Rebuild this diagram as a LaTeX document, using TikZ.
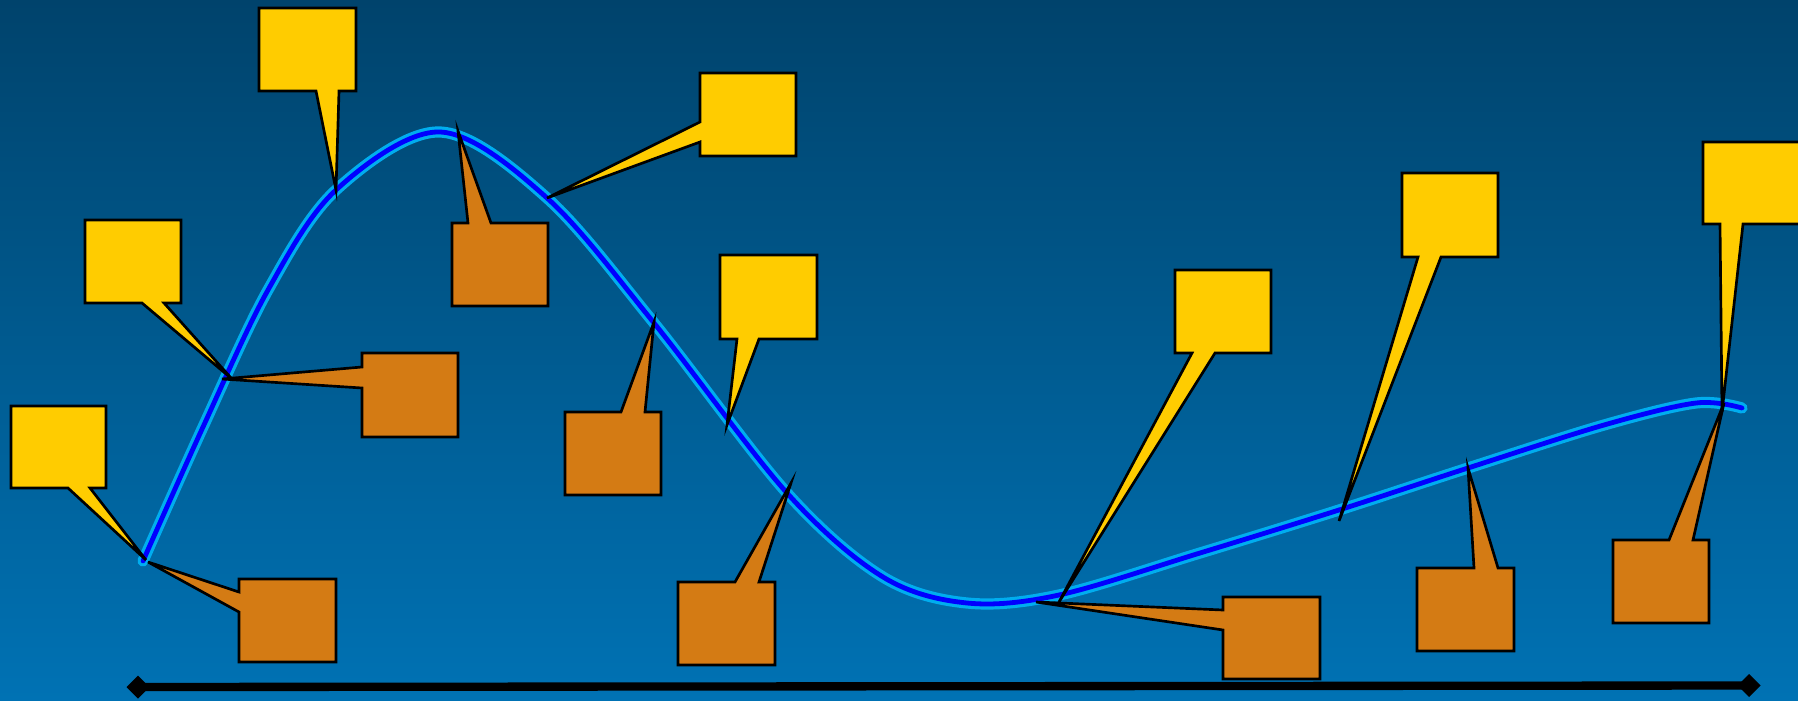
\documentclass[tikz,border=0pt]{standalone}
\usepackage{tikz}
\usetikzlibrary{arrows.meta}
\usepackage{xcolor}

\definecolor{bgtop}{RGB}{0,67,108}
\definecolor{bgbottom}{RGB}{0,114,180}
\definecolor{calloutyellow}{RGB}{255,204,0}
\definecolor{calloutorange}{RGB}{212,123,20}

\begin{document}
\begin{tikzpicture}[x=0.75pt,y=0.75pt,yscale=-1,xscale=1,
  yellowcallout/.style={draw=black,line width=2,fill=calloutyellow},
  orangecallout/.style={draw=black,line width=2,fill=calloutorange}]
\useasboundingbox (0,0) rectangle (1798,700);

%Shape: Background
\shade [top color=bgtop,bottom color=bgbottom] (0,0) rectangle (1798,700);

%Curve Lines
\draw [draw=cyan,double=blue,double distance=3.6,line width=2.4,line cap=round] plot [smooth,tension=0.55] coordinates {(143,561) (203,427) (268,290) (336,190) (440,132) (547,198) (654,323) (787,493) (883,577) (967,603) (1059,595) (1200,553) (1339,510) (1468,468) (1604,425) (1696,403) (1742,408)};

%Straight Lines
\draw [line width=6.25] (138,687) -- (1749,685.5) ;
\fill (138,675.5) -- (149.5,687) -- (138,698.5) -- (126.5,687) -- cycle ;
\fill (1749,674) -- (1760.5,685.5) -- (1749,697) -- (1737.5,685.5) -- cycle ;

%Shape: Callout (yellow)
\draw [yellowcallout] (259,8) -- (356,8) -- (356,91) -- (339,91) -- (336,190) -- (316,91) -- (259,91) -- cycle ;
\draw [yellowcallout] (85,220) -- (181,220) -- (181,303) -- (164,303) -- (232,379) -- (142,303) -- (85,303) -- cycle ;
\draw [yellowcallout] (11,406) -- (106,406) -- (106,488) -- (90,488) -- (146,560) -- (68,488) -- (11,488) -- cycle ;
\draw [yellowcallout] (700,73) -- (796,73) -- (796,156) -- (700,156) -- (700,142) -- (547,198) -- (700,122) -- cycle ;
\draw [yellowcallout] (720,255) -- (817,255) -- (817,339) -- (759,339) -- (727,425) -- (737,339) -- (720,339) -- cycle ;
\draw [yellowcallout] (1175,270) -- (1271,270) -- (1271,353) -- (1215,353) -- (1059,602) -- (1192,353) -- (1175,353) -- cycle ;
\draw [yellowcallout] (1402,173) -- (1498,173) -- (1498,257) -- (1441,257) -- (1339,521) -- (1418,257) -- (1402,257) -- cycle ;
\draw [yellowcallout] (1703,142) -- (1802,142) -- (1802,224) -- (1743,224) -- (1722,412) -- (1720,224) -- (1703,224) -- cycle ;

%Shape: Callout (orange)
\draw [orangecallout] (239,579) -- (336,579) -- (336,662) -- (239,662) -- (239,612) -- (148,562) -- (239,592) -- cycle ;
\draw [orangecallout] (452,223) -- (468,223) -- (458,131) -- (491,223) -- (548,223) -- (548,306) -- (452,306) -- cycle ;
\draw [orangecallout] (362,353) -- (458,353) -- (458,437) -- (362,437) -- (362,388) -- (222,379) -- (362,367) -- cycle ;
\draw [orangecallout] (565,412) -- (621,412) -- (654,322) -- (645,412) -- (661,412) -- (661,495) -- (565,495) -- cycle ;
\draw [orangecallout] (678,582) -- (735,582) -- (791,483) -- (759,582) -- (775,582) -- (775,665) -- (678,665) -- cycle ;
\draw [orangecallout] (1223,597) -- (1320,597) -- (1320,679) -- (1223,679) -- (1223,630) -- (1036,602) -- (1223,610) -- cycle ;
\draw [orangecallout] (1417,568) -- (1474,568) -- (1468,468) -- (1498,568) -- (1514,568) -- (1514,651) -- (1417,651) -- cycle ;
\draw [orangecallout] (1613,540) -- (1669,540) -- (1724,403) -- (1693,540) -- (1709,540) -- (1709,623) -- (1613,623) -- cycle ;

\end{tikzpicture}
\end{document}
